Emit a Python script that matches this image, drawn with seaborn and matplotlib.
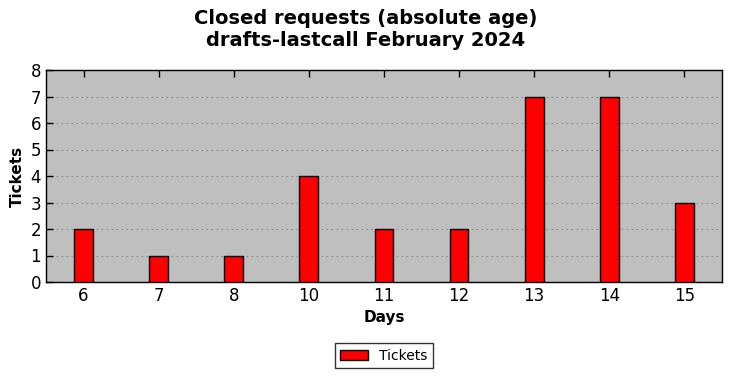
import matplotlib
matplotlib.use("Agg")
import matplotlib.pyplot as plt
import seaborn as sns
import pandas as pd

days = ["6", "7", "8", "10", "11", "12", "13", "14", "15"]
tickets = [2, 1, 1, 4, 2, 2, 7, 7, 3]

sns.set_theme(style="ticks")
plt.rcParams['font.family'] = ['DejaVu Sans']
plt.rcParams['text.color'] = 'black'
plt.rcParams['axes.labelcolor'] = 'black'

df = pd.DataFrame({"Days": days, "Tickets": tickets})

fig = plt.figure(figsize=(7.32, 3.78), dpi=100)
ax = fig.add_axes([46/732, 1-282/378, (722-46)/732, (282-70)/378])
ax.set_facecolor("#bfbfbf")
sns.barplot(data=df, x="Days", y="Tickets", color="red", width=0.25,
            edgecolor="black", linewidth=1, saturation=1, ax=ax, label="Tickets", zorder=3)
ax.set_ylim(0, 8)
ax.set_yticks(range(0, 9))
ax.grid(axis="y", linestyle=(0, (1.5, 3)), color="#8c8c8c", linewidth=0.8, zorder=0)
ax.set_axisbelow(True)
ax.tick_params(direction="in", top=True, right=True, labelsize=12, length=5, width=1, colors="black")
ax.tick_params(axis="y", right=False)
for s in ax.spines.values():
    s.set_color("black")
    s.set_linewidth(1)
ax.set_xlabel("Days", fontsize=11, fontweight="bold", color="black")
ax.set_ylabel("Tickets", fontsize=11, fontweight="bold", color="black")
fig.suptitle("Closed requests (absolute age)\ndrafts-lastcall February 2024", fontsize=14,
             fontweight="bold", y=0.975, color="black")
leg = ax.legend(loc="upper center", bbox_to_anchor=(0.5, -0.255), frameon=True, fancybox=False,
                edgecolor="black", fontsize=10, handlelength=2.0)
leg.get_frame().set_linewidth(1)
for t in leg.get_texts():
    t.set_color("black")
fig.savefig("out.png", dpi=100)
